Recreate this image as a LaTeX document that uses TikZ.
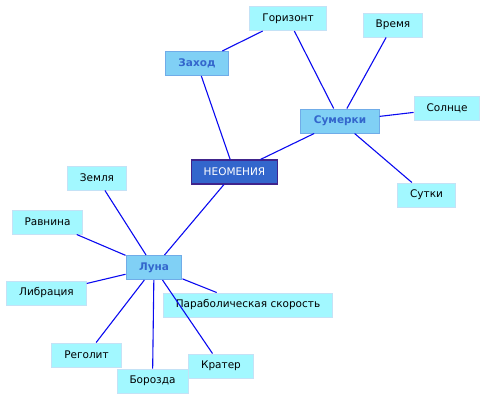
\documentclass[tikz,border=0pt]{standalone}
\usepackage{fontspec}
\setmainfont{DejaVu Sans}
\usepackage{xcolor}
\usetikzlibrary{positioning}

\definecolor{termfill}{RGB}{162,248,255}
\definecolor{termline}{RGB}{196,226,246}
\definecolor{topicfill}{RGB}{128,208,245}
\definecolor{topicline}{RGB}{112,172,232}
\definecolor{topictext}{RGB}{51,102,204}
\definecolor{corefill}{RGB}{51,102,204}
\definecolor{coreline}{RGB}{64,36,140}
\definecolor{linkblue}{RGB}{10,10,240}

\begin{document}
\begin{tikzpicture}[
  x=1bp, y=-1bp,
  every node/.style={font=\fontsize{10.5bp}{12bp}\selectfont},
  term/.style={draw=termline, line width=1bp, rectangle, minimum height=24bp,
               inner xsep=12.5bp, inner ysep=2bp, fill=termfill, text=black},
  topic/.style={draw=topicline, line width=1bp, rectangle, minimum height=24bp,
                inner xsep=13bp, inner ysep=2bp, fill=topicfill, text=topictext,
                font=\fontsize{10.5bp}{12bp}\selectfont\bfseries},
  core/.style={draw=coreline, line width=1.2bp, rectangle, minimum height=24bp,
               inner xsep=12.5bp, inner ysep=2bp, fill=corefill, text=white},
  link/.style={draw=linkblue, line width=1.1bp}
]

\useasboundingbox (0,0) rectangle (487,400);

% ---- Centre ----
\node[core] (neo) at (234.5,172) {НЕОМЕНИЯ};

% ---- Topics ----
\node[topic] (zakhod)  at (197,63.5) {Заход};
\node[topic] (sumerki) at (340,121)  {Сумерки};
\node[topic] (luna)    at (154,267.5){Луна};

% ---- Terms round Заход / Сумерки ----
\node[term] (gorizont) at (288,18.5) {Горизонт};
\node[term] (vremya)   at (393,25)   {Время};
\node[term] (solntse)  at (447,108.5){Солнце};
\node[term] (sutki)    at (426.5,195){Сутки};

% ---- Terms round Луна ----
\node[term] (zemlya)   at (97,178)   {Земля};
\node[term] (ravnina)  at (47.5,222) {Равнина};
\node[term] (libr)     at (46.5,293) {Либрация};
\node[term] (regolit)  at (86.5,355) {Реголит};
\node[term] (borozda)  at (152.5,381){Борозда};
\node[term] (krater)   at (221,366)  {Кратер};
\node[term] (parab)    at (248,305)  {Параболическая скорость};

% ---- Links ----
\draw[link] (zakhod) -- (gorizont);
\draw[link] (zakhod) -- (neo);
\draw[link] (sumerki) -- (neo);
\draw[link] (neo) -- (luna);

\foreach \t in {gorizont, vremya, solntse, sutki}{
  \draw[link] (sumerki) -- (\t);
}
\foreach \t in {zemlya, ravnina, libr, regolit, borozda, krater, parab}{
  \draw[link] (luna) -- (\t);
}

\end{tikzpicture}
\end{document}
